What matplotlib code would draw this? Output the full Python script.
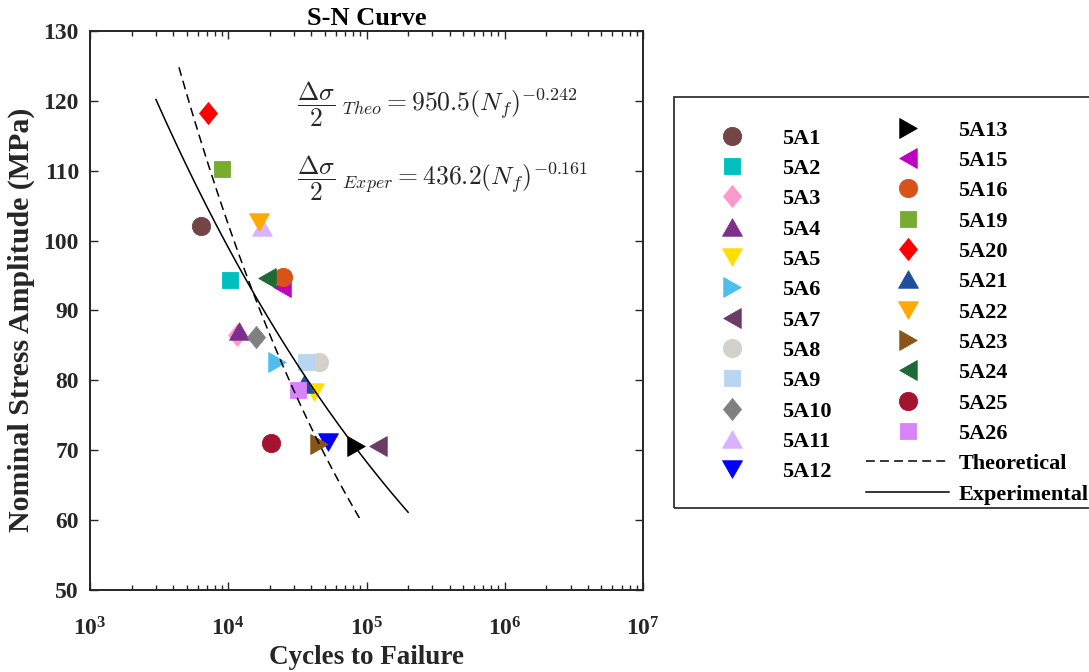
import numpy as np
import matplotlib
matplotlib.use('Agg')
import matplotlib.pyplot as plt
from matplotlib.path import Path
from matplotlib.patches import Rectangle
from matplotlib.ticker import NullLocator, FixedLocator

# ---------------- data ----------------
specimens = ['5A1', '5A2', '5A3', '5A4', '5A5', '5A6', '5A7', '5A8', '5A9', '5A10', '5A11', '5A12',
             '5A13', '5A15', '5A16', '5A19', '5A20', '5A21', '5A22', '5A23', '5A24', '5A25', '5A26']
cycles = [6390, 10300, 11600, 12000, 41500, 22400, 120500, 45600, 36500, 15900, 17500, 52400,
          83900, 24600, 24800, 9020, 7100, 35300, 16600, 45600, 19200, 20400, 32100]
stress = [102.1, 94.4, 86.5, 87.0, 78.4, 82.6, 70.65, 82.6, 82.6, 86.2, 102.0, 71.2,
          70.65, 93.3, 94.75, 110.2, 118.2, 79.5, 102.7, 70.9, 94.6, 71.0, 78.6]
shapes = ['o', 's', 'd', '^', 'v', '>', '<', 'o', 's', 'd', '^', 'v',
          '>', '<', 'o', 's', 'd', '^', 'v', '>', '<', 'o', 's']
colors = ['#734545', '#00BFBF', '#FF99CC', '#7E2F8E', '#FFDD00', '#4DBEEE', '#6B3D66',
          '#D4D0CA', '#B8D5F2', '#808080', '#D8B4FE', '#0000FF',
          '#000000', '#BF00BF', '#D95319', '#77AC30', '#FF0000', '#1F4E9B', '#FFAA00',
          '#8A5518', '#1D6A36', '#A2142F', '#DA82F8']

# fitted Basquin curves shown on the chart
theo_coef, theo_exp = 950.5, -0.242
theo_range = [4400, 90000]
exper_coef, exper_exp = 436.2, -0.161
exper_range = [3000, 200000]

xticks = [1e3, 1e4, 1e5, 1e6, 1e7]
yticks = [50, 60, 70, 80, 90, 100, 110, 120, 130]

# ---------------- style ----------------
plt.rcParams['font.family'] = ['Liberation Serif', 'DejaVu Serif']
plt.rcParams['font.weight'] = 'bold'
TXT = '#262626'

W, H = 1089, 672
fig = plt.figure(figsize=(W / 100, H / 100), dpi=100)
ax = fig.add_axes([90 / W, 1 - 590 / H, 553 / W, 559 / H])

th = 0.88
MV, LT, CL = Path.MOVETO, Path.LINETO, Path.CLOSEPOLY
paths = {
    '^': Path([(0, th), (-1, -th), (1, -th), (0, th)], [MV, LT, LT, CL]),
    'v': Path([(0, -th), (-1, th), (1, th), (0, -th)], [MV, LT, LT, CL]),
    '>': Path([(th, 0), (-th, 1), (-th, -1), (th, 0)], [MV, LT, LT, CL]),
    '<': Path([(-th, 0), (th, 1), (th, -1), (-th, 0)], [MV, LT, LT, CL]),
    'd': Path([(0, 1), (0.82, 0), (0, -1), (-0.82, 0), (0, 1)], [MV, LT, LT, LT, CL]),
    'o': 'o',
    's': 's',
}
sizes = {'^': 14.3, 'v': 14.3, '>': 14.3, '<': 14.3, 'd': 15.8, 'o': 13.2, 's': 10.9}

handles = []
for name, n, s, shp, c in zip(specimens, cycles, stress, shapes, colors):
    h, = ax.plot([n], [s], linestyle='none', marker=paths[shp], markersize=sizes[shp],
                 markerfacecolor=c, markeredgecolor=c, markeredgewidth=0.6, label=name, zorder=3)
    handles.append(h)

Nt = np.logspace(np.log10(theo_range[0]), np.log10(theo_range[1]), 200)
Ne = np.logspace(np.log10(exper_range[0]), np.log10(exper_range[1]), 200)
lt, = ax.plot(Nt, theo_coef * Nt ** theo_exp, color='black', lw=1.1,
              linestyle=(0, (5.8, 3.4)), zorder=4)
le, = ax.plot(Ne, exper_coef * Ne ** exper_exp, color='black', lw=1.1, zorder=4)

ax.set_xscale('log')
ax.set_xlim(1e3, 1e7)
ax.set_ylim(50, 130)
ax.xaxis.set_major_locator(FixedLocator(xticks))
ax.set_yticks(yticks)
ax.yaxis.set_minor_locator(NullLocator())
ax.tick_params(which='both', direction='in', top=True, right=True, width=1.0, color=TXT,
               labelsize=17, labelcolor=TXT)
ax.tick_params(which='major', length=6)
ax.tick_params(which='minor', length=3.6)
ax.tick_params(axis='x', which='major', pad=20)
ax.tick_params(axis='y', which='major', pad=8)
for sp in ax.spines.values():
    sp.set_linewidth(1.4)
    sp.set_color(TXT)

ax.set_xlabel('Cycles to Failure', fontsize=19.5, fontweight='bold', color=TXT, labelpad=3)
ax.set_ylabel('Nominal Stress Amplitude (MPa)', fontsize=21.5, fontweight='bold', color=TXT)
ax.yaxis.set_label_coords(-0.1, 0.483)
ax.set_title('S-N Curve', fontsize=19, fontweight='bold', color='black', pad=4)

eq1 = r'$\dfrac{\Delta\sigma}{2}_{\ Theo} = 950.5(N_f)^{-0.242}$'
eq2 = r'$\dfrac{\Delta\sigma}{2}_{\ Exper} = 436.2(N_f)^{-0.161}$'
ax.text(0.374, 0.868, eq1, transform=ax.transAxes, fontsize=18.5, math_fontfamily='cm',
        ha='left', va='center', fontweight='normal', color=TXT)
ax.text(0.374, 0.736, eq2, transform=ax.transAxes, fontsize=18.5, math_fontfamily='cm',
        ha='left', va='center', fontweight='normal', color=TXT)

# ---------------- legend ----------------
common = dict(frameon=False, loc='upper left', bbox_transform=fig.transFigure, borderpad=0,
              borderaxespad=0, handlelength=3.75, handletextpad=0.4, labelspacing=0.44,
              numpoints=1, prop=dict(family='Liberation Serif', weight='bold', size=16))
leg1 = ax.legend(handles[:12], specimens[:12], bbox_to_anchor=(690 / W, 1 - 128 / H), **common)
ax.add_artist(leg1)
leg2 = ax.legend(handles[12:] + [lt, le], specimens[12:] + ['Theoretical', 'Experimental'],
                 bbox_to_anchor=(866 / W, 1 - 120 / H), **common)
for lg in (leg1, leg2):
    for t in lg.get_texts():
        t.set_color('black')

frame = Rectangle((674 / W, 1 - 508 / H), (1100 - 674) / W, (508 - 97) / H,
                  transform=fig.transFigure, fill=False, lw=1.3, edgecolor='#333333')
fig.add_artist(frame)

fig.savefig('out.png', dpi=100)
